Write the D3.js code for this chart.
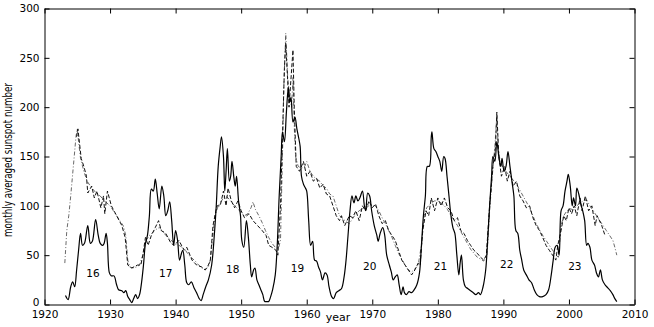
<!DOCTYPE html>
<html lang="en">
<head>
    <meta charset="UTF-8">
    <title>Monthly averaged sunspot number</title>
    <style>
        body {
            margin: 0;
            padding: 0;
            background-color: #fff;
        }

        .tick text, .num {
            font-family: "DejaVu Sans", sans-serif;
            font-size: 10.5px;
            fill: #000;
        }

        .ylabel {
            font-family: "Liberation Sans Narrow", "DejaVu Sans Condensed", sans-serif;
            font-size: 11.5px;
        }

        .xlabel {
            font-family: "DejaVu Sans", sans-serif;
            font-size: 11px;
        }

        .observed {
            fill: none;
            stroke: #000;
            stroke-width: 1.2px;
        }

        .modelA {
            fill: none;
            stroke: #111;
            stroke-width: 1px;
            stroke-dasharray: 4, 2;
        }

        .modelB {
            fill: none;
            stroke: #444;
            stroke-width: 0.8px;
            stroke-dasharray: 4, 2, 1, 2;
        }
    </style>
</head>
<body>

<svg id="chart" width="654" height="327"></svg>

<script src="https://d3js.org/d3.v7.min.js"></script>
<script>
    // observed (solid) monthly averaged sunspot number
    const obsYears = [
        1923.2, 1923.6, 1924.0, 1924.3, 1924.6, 1924.9, 1925.2, 1925.5, 1925.8, 1926.1,
        1926.6, 1927.0, 1927.3, 1927.8, 1928.2, 1928.5, 1928.9, 1929.1, 1929.4, 1929.6,
        1929.9, 1930.2, 1930.6, 1931.0, 1931.3, 1931.8, 1932.1, 1932.4, 1932.7, 1933.0,
        1933.3, 1933.6, 1933.9, 1934.2, 1934.5, 1934.8, 1935.1, 1935.4, 1935.7, 1936.0,
        1936.3, 1936.6, 1936.9, 1937.2, 1937.5, 1937.9, 1938.2, 1938.5, 1938.8, 1939.1,
        1939.4, 1939.7, 1940.0, 1940.3, 1940.6, 1940.9, 1941.1, 1941.4, 1941.7, 1942.0,
        1942.4, 1942.8, 1943.2, 1943.6, 1943.9, 1944.2, 1944.6, 1945.0, 1945.5, 1945.9,
        1946.2, 1946.5, 1946.8, 1947.0, 1947.3, 1947.5, 1947.7, 1947.9, 1948.2, 1948.4,
        1948.6, 1948.9, 1949.1, 1949.3, 1949.6, 1949.9, 1950.1, 1950.4, 1950.8, 1951.1,
        1951.4, 1951.6, 1951.9, 1952.1, 1952.4, 1952.7, 1953.0, 1953.3, 1953.6, 1953.9,
        1954.2, 1954.5, 1954.8, 1955.2, 1955.5, 1955.8, 1956.1, 1956.3, 1956.6, 1956.9,
        1957.2, 1957.4, 1957.6, 1957.9, 1958.2, 1958.5, 1958.8, 1959.0, 1959.2, 1959.5,
        1959.8, 1960.0, 1960.3, 1960.6, 1960.9, 1961.2, 1961.5, 1961.8, 1962.1, 1962.4,
        1962.8, 1963.1, 1963.4, 1963.8, 1964.1, 1964.5, 1964.9, 1965.3, 1965.7, 1966.0,
        1966.3, 1966.6, 1966.9, 1967.2, 1967.5, 1967.8, 1968.1, 1968.5, 1968.8, 1969.0,
        1969.3, 1969.6, 1969.9, 1970.3, 1970.7, 1970.9, 1971.2, 1971.6, 1971.9, 1972.2,
        1972.6, 1972.9, 1973.2, 1973.5, 1973.8, 1974.1, 1974.4, 1974.7, 1974.9, 1975.2,
        1975.6, 1976.0, 1976.4, 1976.8, 1977.2, 1977.5, 1977.8, 1978.1, 1978.4, 1978.7,
        1979.0, 1979.1, 1979.4, 1979.7, 1980.0, 1980.3, 1980.6, 1980.9, 1981.1, 1981.4,
        1981.7, 1982.0, 1982.3, 1982.6, 1982.9, 1983.2, 1983.4, 1983.6, 1983.9, 1984.2,
        1984.6, 1985.0, 1985.4, 1985.8, 1986.2, 1986.5, 1986.9, 1987.3, 1987.6, 1987.9,
        1988.2, 1988.4, 1988.7, 1989.0, 1989.3, 1989.6, 1989.8, 1990.1, 1990.4, 1990.7,
        1991.0, 1991.3, 1991.6, 1991.9, 1992.2, 1992.5, 1992.8, 1993.1, 1993.5, 1993.9,
        1994.3, 1994.7, 1995.1, 1995.5, 1996.0, 1996.5, 1996.9, 1997.3, 1997.6, 1997.9,
        1998.2, 1998.5, 1998.8, 1999.1, 1999.4, 1999.7, 1999.9, 2000.2, 2000.5, 2000.7,
        2001.0, 2001.2, 2001.5, 2001.8, 2002.1, 2002.4, 2002.7, 2002.9, 2003.2, 2003.5,
        2003.9, 2004.2, 2004.5, 2004.8, 2005.1, 2005.5, 2005.9, 2006.3, 2006.7, 2007.0,
        2007.3
    ];
    const obsValues = [
        9, 5, 18, 23, 18, 35, 55, 72, 60, 62,
        80, 62, 64, 86, 70, 62, 60, 62, 72, 62,
        32, 29, 29, 20, 15, 14, 12, 14, 8, 5,
        2, 6, 10, 6, 10, 22, 40, 62, 70, 90,
        117, 115, 127, 112, 97, 120, 110, 90, 95, 104,
        85, 60, 75, 65, 45, 52, 55, 40, 22, 20,
        23, 17, 12, 6, 4, 10, 18, 25, 40, 70,
        100, 140, 160, 170, 150, 115, 135, 158, 125, 130,
        145, 128, 120, 130, 105, 90, 65, 58, 85, 68,
        40, 28, 35, 37, 25, 20, 15, 10, 3, 3,
        3, 8, 15, 30, 60, 110, 150, 175, 165, 195,
        220, 205, 210, 185, 190, 178, 168, 160, 130, 122,
        118, 115, 85, 60, 64, 45, 44, 38, 33, 25,
        32, 30, 18, 8, 6, 12, 14, 16, 28, 45,
        70, 95, 110, 103, 110, 105, 108, 115, 100, 95,
        113, 110, 95, 80, 70, 64, 72, 78, 70, 50,
        40, 33, 25, 28, 30, 20, 10, 18, 12, 10,
        13, 12, 15, 20, 32, 60, 90, 110, 140, 140,
        170, 175, 158, 155, 150, 145, 135, 150, 148, 130,
        110, 90, 78, 72, 50, 30, 42, 50, 25, 18,
        16, 14, 12, 10, 12, 10, 18, 35, 65, 100,
        130, 150, 145, 165, 150, 140, 148, 135, 140, 155,
        140, 125, 110, 75, 72, 55, 45, 35, 30, 25,
        22, 15, 10, 8, 8, 10, 15, 30, 45, 58,
        60, 50, 95, 100, 115, 125, 132, 120, 100, 108,
        100, 118, 112, 102, 95, 85, 60, 62, 58, 45,
        40, 32, 28, 35, 25, 20, 17, 14, 10, 6,
        3
    ];

    // predicted, dashed
    const dashYears = [
        1924.9, 1925.1, 1925.6, 1926.0, 1926.4, 1926.6, 1927.2, 1927.6, 1928.0, 1928.6,
        1929.0, 1929.2, 1929.6, 1930.2, 1931.0, 1931.8, 1932.3, 1932.7, 1933.3, 1934.2,
        1934.7, 1935.0, 1935.4, 1935.8, 1936.3, 1936.9, 1937.4, 1937.8, 1938.5, 1939.3,
        1939.8, 1940.5, 1941.3, 1941.7, 1942.5, 1943.2, 1944.0, 1944.5, 1945.0, 1945.3,
        1945.7, 1946.3, 1946.8, 1947.3, 1947.7, 1948.0, 1948.5, 1949.0, 1949.5, 1950.0,
        1950.5, 1951.2, 1951.8, 1952.5, 1953.2, 1953.8, 1954.2, 1954.7, 1955.3, 1955.6,
        1956.0, 1956.3, 1956.6, 1956.8, 1957.3, 1957.9, 1958.1, 1958.4, 1958.9, 1959.5,
        1960.0, 1960.5, 1961.0, 1961.5, 1962.0, 1962.5, 1963.0, 1963.5, 1964.0, 1964.5,
        1965.0, 1965.3, 1965.8, 1966.5, 1967.0, 1967.5, 1968.0, 1968.5, 1969.0, 1969.5,
        1970.0, 1970.5, 1971.0, 1971.5, 1972.0, 1972.5, 1973.0, 1973.5, 1974.0, 1974.5,
        1975.0, 1975.5, 1976.0, 1976.5, 1977.0, 1977.3, 1977.7, 1978.2, 1978.6, 1979.0,
        1979.5, 1980.0, 1980.5, 1981.0, 1981.5, 1982.0, 1982.5, 1983.0, 1983.5, 1984.0,
        1984.5, 1985.0, 1985.5, 1986.0, 1986.5, 1987.0, 1987.4, 1987.9, 1988.4, 1988.8,
        1989.0, 1989.3, 1989.7, 1990.2, 1990.6, 1991.0, 1991.5, 1992.0, 1992.5, 1993.0,
        1993.5, 1994.0, 1994.5, 1995.0, 1995.5, 1996.0, 1996.5, 1997.0, 1997.5, 1998.0,
        1998.3, 1998.8, 1999.2, 1999.6, 2000.0, 2000.4, 2000.8, 2001.2, 2001.7, 2002.0,
        2002.5, 2003.0, 2003.5, 2004.0, 2004.3, 2005.0, 2005.5
    ];
    const dashValues = [
        170, 178, 148, 140, 130, 113, 120, 108, 115, 98,
        110, 92, 115, 100, 90, 80, 68, 40, 37, 40,
        40, 50, 68, 60, 70, 78, 85, 75, 72, 62,
        60, 65, 55, 58, 45, 40, 38, 35, 40, 45,
        80, 100, 100, 115, 100, 118, 105, 98, 105, 95,
        88, 92, 85, 80, 75, 70, 60, 58, 55, 50,
        100, 170, 240, 265, 200, 258, 200, 140, 135, 145,
        130, 135, 125, 128, 118, 122, 112, 110, 100, 90,
        85, 90, 80, 90, 88, 95, 85, 100, 95, 105,
        98, 102, 90, 82, 85, 75, 70, 65, 55, 45,
        40, 35, 30, 35, 42, 40, 75, 95, 90, 108,
        95, 108, 100, 108, 98, 95, 85, 88, 75, 72,
        65, 60, 55, 52, 48, 45, 50, 100, 140, 160,
        195, 150, 130, 140, 125, 135, 120, 125, 110, 105,
        98, 100, 88, 80, 75, 68, 60, 55, 50, 45,
        60, 75, 90, 85, 98, 92, 100, 90, 108, 95,
        110, 95, 100, 80, 90, 80, 70
    ];

    // predicted, dash-dot
    const dotYears = [
        1923.1, 1923.4, 1923.7, 1924.0, 1924.4, 1924.8, 1925.0, 1925.2, 1925.5, 1926.0,
        1926.5, 1927.0, 1927.5, 1928.0, 1928.5, 1929.0, 1929.5, 1930.0, 1930.5, 1931.0,
        1931.5, 1932.0, 1932.4, 1932.7, 1933.0, 1933.5, 1934.0, 1934.5, 1935.0, 1935.5,
        1936.0, 1936.5, 1937.0, 1937.5, 1938.0, 1938.5, 1939.0, 1939.5, 1940.0, 1940.5,
        1941.0, 1941.5, 1942.0, 1942.5, 1943.0, 1943.5, 1944.0, 1944.5, 1945.0, 1945.3,
        1945.6, 1946.0, 1946.5, 1947.0, 1947.5, 1948.0, 1948.5, 1949.0, 1949.5, 1950.0,
        1950.5, 1951.0, 1951.5, 1951.8, 1952.2, 1952.7, 1953.2, 1953.7, 1954.2, 1954.7,
        1955.2, 1955.7, 1956.0, 1956.3, 1956.5, 1956.8, 1957.1, 1957.4, 1957.7, 1957.9,
        1958.1, 1958.3, 1958.7, 1959.2, 1959.7, 1960.0, 1960.5, 1961.0, 1961.5, 1962.0,
        1962.5, 1963.0, 1963.5, 1964.0, 1964.5, 1965.0, 1965.5, 1966.0, 1966.5, 1967.0,
        1967.5, 1968.0, 1968.5, 1969.0, 1969.5, 1970.0, 1970.5, 1971.0, 1971.5, 1972.0,
        1972.5, 1973.0, 1973.5, 1974.0, 1974.5, 1975.0, 1975.5, 1976.0, 1976.5, 1977.0,
        1977.5, 1977.9, 1978.3, 1979.0, 1979.5, 1980.0, 1980.5, 1981.0, 1981.5, 1982.0,
        1982.5, 1983.0, 1983.5, 1984.0, 1984.5, 1985.0, 1985.5, 1986.0, 1986.5, 1987.0,
        1987.5, 1987.9, 1988.3, 1988.7, 1989.0, 1989.2, 1989.5, 1990.0, 1990.5, 1991.0,
        1991.5, 1992.0, 1992.5, 1993.0, 1993.5, 1994.0, 1994.5, 1995.0, 1995.5, 1996.0,
        1996.5, 1997.0, 1997.5, 1998.0, 1998.4, 1998.8, 1999.2, 1999.7, 2000.2, 2000.7,
        2001.2, 2001.7, 2002.2, 2002.7, 2003.2, 2003.7, 2004.2, 2004.7, 2005.2, 2005.7,
        2006.2, 2006.7, 2007.0, 2007.3
    ];
    const dotValues = [
        42, 75, 90, 110, 140, 170, 178, 165, 148, 135,
        125, 120, 116, 112, 110, 106, 103, 100, 95, 90,
        85, 80, 70, 45, 38, 37, 38, 40, 50, 65,
        70, 73, 76, 78, 75, 70, 67, 64, 62, 60,
        58, 55, 50, 47, 44, 40, 37, 35, 38, 45,
        65, 90, 100, 105, 110, 108, 104, 100, 97, 93,
        90, 92, 98, 104, 96, 90, 83, 75, 68, 62,
        58, 57, 65, 150, 220, 275, 230, 210, 200, 230,
        180, 150, 140, 138, 140, 145, 135, 130, 127, 125,
        120, 118, 112, 110, 100, 90, 87, 84, 82, 87,
        92, 95, 97, 99, 100, 101, 100, 95, 88, 82,
        75, 68, 60, 52, 46, 40, 35, 33, 36, 40,
        60, 90, 98, 103, 105, 105, 103, 100, 96, 90,
        85, 80, 74, 68, 62, 56, 52, 48, 46, 44,
        50, 95, 130, 160, 192, 160, 145, 138, 134, 130,
        126, 122, 116, 110, 104, 98, 90, 82, 76, 70,
        65, 60, 55, 50, 48, 80, 90, 95, 97, 96,
        100, 103, 105, 106, 100, 95, 90, 85, 80, 75,
        70, 65, 58, 50
    ];

    // cycle numbers
    const cycleNames = ["16", "17", "18", "19", "20", "21", "22", "23"];
    const cycleYears = [1927.4, 1938.5, 1948.7, 1958.6, 1969.6, 1980.4, 1990.5, 2000.9];
    const cycleLevels = [32, 32, 36, 37, 39, 39, 41, 39];

    const xTicks = d3.range(1920, 2011, 10);
    const yTicks = d3.range(0, 301, 50);

    const svg = d3.select("#chart");
    const x = d3.scaleLinear().domain([1920, 2010]).range([44.5, 634.5]);
    const y = d3.scaleLinear().domain([0, 300]).range([304.5, 8.5]);

    const zip = (xs, vs) => xs.map((t, i) => ({ t: t, v: vs[i] }));

    const lineSmooth = d3.line()
        .x(d => x(d.t))
        .y(d => y(d.v))
        .curve(d3.curveCatmullRom.alpha(0.5));
    const lineStraight = d3.line()
        .x(d => x(d.t))
        .y(d => y(d.v));

    svg.append("path").attr("class", "modelB").attr("d", lineStraight(zip(dotYears, dotValues)));
    svg.append("path").attr("class", "modelA").attr("d", lineStraight(zip(dashYears, dashValues)));
    svg.append("path").attr("class", "observed").attr("d", lineSmooth(zip(obsYears, obsValues)));

    // axes, ticks pointing inwards
    svg.append("g")
        .attr("transform", "translate(0," + y(0) + ")")
        .call(d3.axisBottom(x).tickValues(xTicks).tickFormat(d3.format("d")).tickSize(-5).tickSizeOuter(0).tickPadding(6));
    svg.append("g")
        .attr("transform", "translate(0," + y(300) + ")")
        .call(d3.axisTop(x).tickValues(xTicks).tickFormat("").tickSize(-5).tickSizeOuter(0));
    const yAxis = svg.append("g")
        .attr("transform", "translate(" + x(1920) + ",0)")
        .call(d3.axisLeft(y).tickValues(yTicks).tickSize(-5).tickSizeOuter(0).tickPadding(5));
    svg.append("g")
        .attr("transform", "translate(" + x(2010) + ",0)")
        .call(d3.axisRight(y).tickValues(yTicks).tickFormat("").tickSize(-5).tickSizeOuter(0));

    // the "0" sits just above the 1920 label
    yAxis.selectAll(".tick text").filter(d => d === 0).attr("dy", "0.1em");

    svg.selectAll(".domain").attr("stroke", "#000");
    svg.selectAll(".tick line").attr("stroke", "#000");

    svg.selectAll(".num")
        .data(cycleNames)
        .enter().append("text")
        .attr("class", "num")
        .attr("x", (d, i) => x(cycleYears[i]))
        .attr("y", (d, i) => y(cycleLevels[i]))
        .attr("text-anchor", "middle")
        .attr("dy", "0.35em")
        .text(d => d);

    svg.append("text")
        .attr("class", "xlabel")
        .attr("x", 338)
        .attr("y", 321)
        .attr("text-anchor", "middle")
        .text("year");

    svg.append("text")
        .attr("class", "ylabel")
        .attr("transform", "translate(12,160) rotate(-90)")
        .attr("text-anchor", "middle")
        .attr("textLength", 154)
        .attr("lengthAdjust", "spacingAndGlyphs")
        .text("monthly averaged sunspot number");
</script>

</body>
</html>
